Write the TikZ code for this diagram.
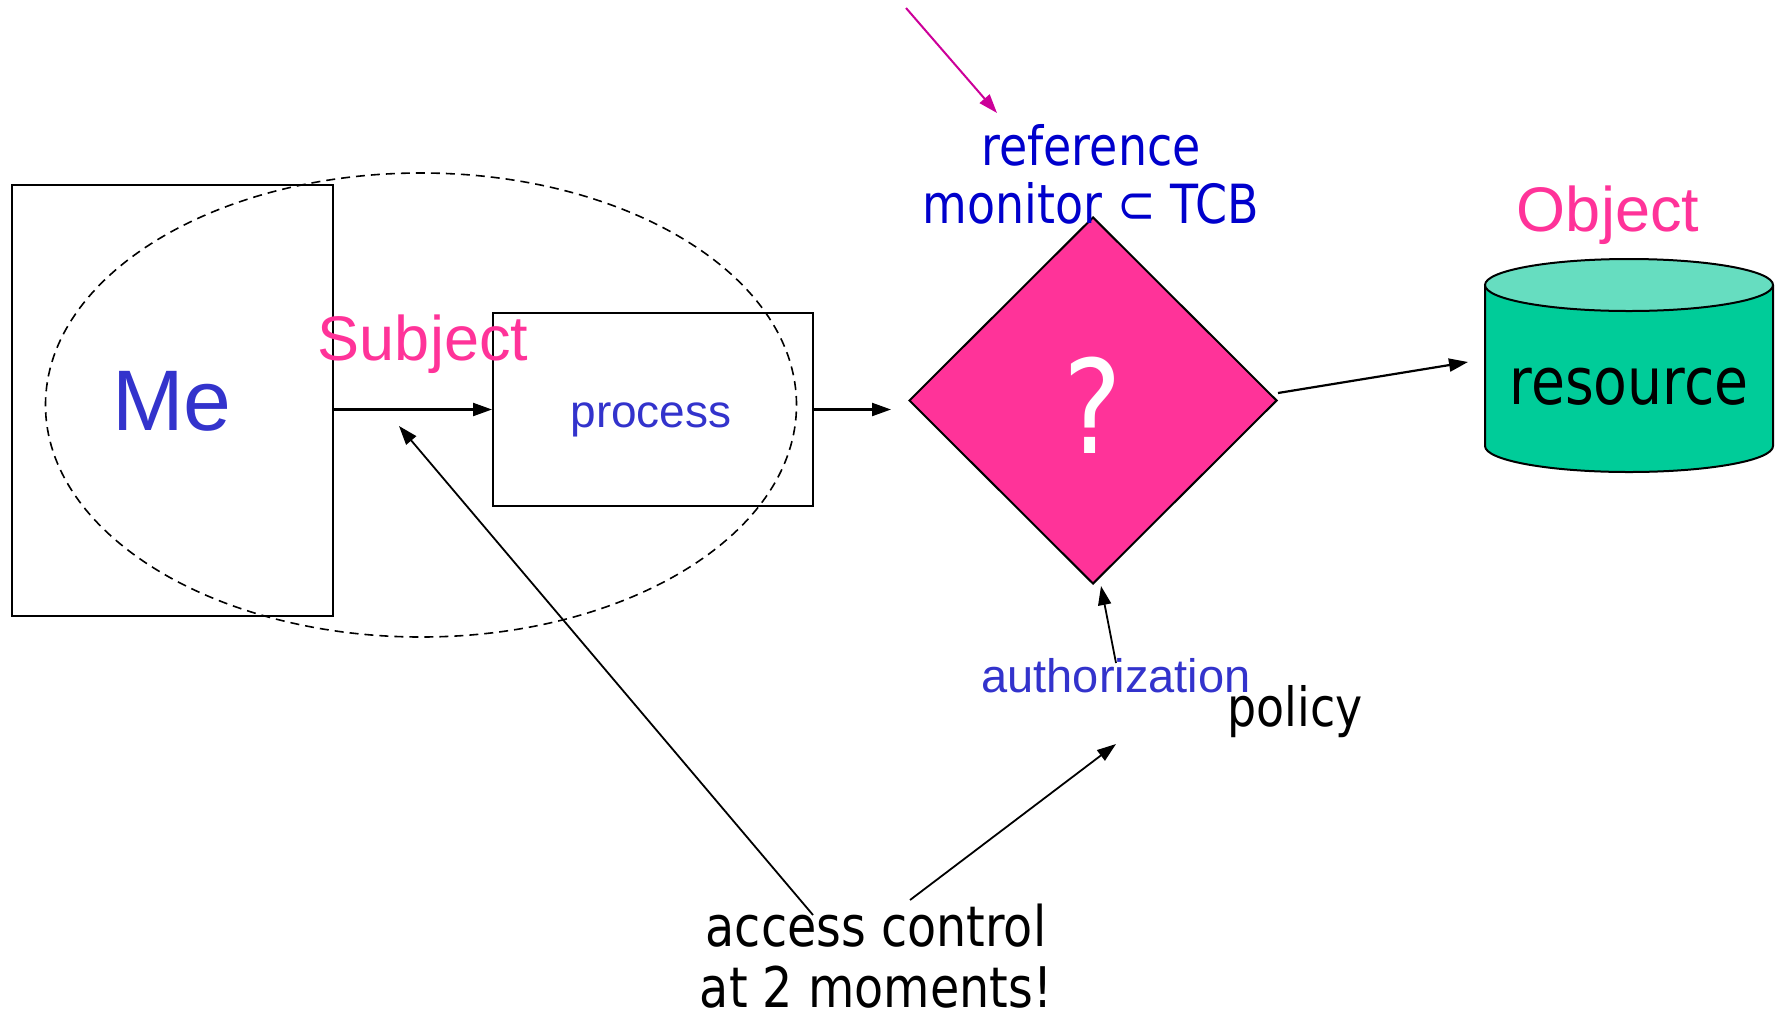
\documentclass[tikz,border=0pt]{standalone}
\usepackage{fontspec}
\setmainfont{Liberation Sans}
\newfontfamily\tah[FakeStretch=0.85]{DejaVu Sans}
\usetikzlibrary{shapes.geometric,arrows.meta}
\definecolor{meblue}{HTML}{3333CC}
\definecolor{subjpink}{HTML}{FF3399}
\definecolor{rmblue}{HTML}{0000CC}
\definecolor{cylbody}{HTML}{00CC99}
\definecolor{cyltop}{HTML}{66DDC0}
\definecolor{magarrow}{HTML}{CC0099}
\tikzset{
  box/.style={draw, line width=2pt, inner sep=0},
  lbl/.style={anchor=base, inner sep=0},
  conn/.style={line width=2.2pt, -{Triangle[length=19pt,width=13pt]}},
  thinconn/.style={line width=1.8pt, -{Triangle[length=19pt,width=13pt]}},
}
\begin{document}
\begin{tikzpicture}[x=1pt,y=1pt]
\useasboundingbox (0,0) rectangle (1776,-1018);
% subject boxes
\node[box, minimum width=320.5, minimum height=431] (me) at (172.5,-400.5) {};
\node[box, minimum width=320, minimum height=193] (proc) at (653,-409.5) {};
\node[ellipse, draw, line width=1.6pt, dash pattern=on 9pt off 6pt, minimum width=751, minimum height=464, inner sep=0] (subj) at (421,-405) {};
\node[lbl, text=meblue, font=\fontsize{86}{86}\selectfont] (metext) at (172,-430) {Me};
\node[lbl, text=subjpink, font=\fontsize{63}{63}\selectfont] (subjtext) at (423,-360) {Subject};
\node[lbl, text=meblue, font=\fontsize{46}{46}\selectfont] (proctext) at (651,-427) {process};
% reference monitor
\node[diamond, draw, line width=2pt, fill=subjpink, minimum width=368, minimum height=367, inner sep=0] (rm) at (1093,-400.5) {};
\node[lbl, text=white, font=\tah\fontsize{130}{130}\selectfont] (q) at (1093,-453) {?};
\node[lbl, text=rmblue, font=\tah\fontsize{54}{54}\selectfont] (rm1) at (1091,-165) {reference};
\node[lbl, text=rmblue, font=\tah\fontsize{54}{54}\selectfont] (rm2) at (1091,-223) {monitor ⊂ TCB};
\coordinate (magstart) at (906,-8);
\coordinate (magend) at (997,-113);
\draw[line width=2pt, magarrow, -{Triangle[length=19pt,width=13pt]}] (magstart) -- (magend);
% object
\fill[cylbody] (1485,-285) -- (1485,-446) arc[start angle=180, end angle=360, x radius=144, y radius=26] -- (1773,-285) -- cycle;
\draw[line width=2pt] (1485,-285) -- (1485,-446) arc[start angle=180, end angle=360, x radius=144, y radius=26] -- (1773,-285);
\draw[line width=2pt, fill=cyltop] (1629,-285) ellipse [x radius=144, y radius=26];
\node[inner sep=0, minimum width=288, minimum height=213] (cyl) at (1629,-365) {};
\node[lbl, text=black, font=\tah\fontsize{65}{65}\selectfont] (restext) at (1629,-404) {resource};
\node[lbl, text=subjpink, font=\fontsize{63}{63}\selectfont] (objtext) at (1608,-231) {Object};
% policy
\node[lbl, text=meblue, font=\fontsize{47}{47}\selectfont] (auth) at (1116,-692) {authorization};
\node[lbl, text=black, font=\tah\fontsize{54}{54}\selectfont] (policy) at (1295,-726) {policy};
\node[lbl, text=black, font=\tah\fontsize{56}{56}\selectfont] (ac1) at (876,-946) {access control};
\node[lbl, text=black, font=\tah\fontsize{56}{56}\selectfont] (ac2) at (876,-1007) {at 2 moments!};
% connectors
\draw[conn] (me.east |- proc.west) -- (proc.west);
\draw[conn, shorten >=17pt] (proc.east) -- (rm.west |- proc.east);
\coordinate (rmout) at (1278,-393);
\coordinate (cylin) at (1468,-362);
\draw[conn] (rmout) -- (cylin);
\coordinate (authtop) at (1116,-663);
\coordinate (rmbot) at (1101,-586);
\draw[thinconn] (authtop) -- (rmbot);
\coordinate (s1) at (813,-915);
\coordinate (t1) at (399,-426);
\coordinate (s2) at (910,-900);
\coordinate (t2) at (1116,-744);
\draw[thinconn] (s1) -- (t1);
\draw[thinconn] (s2) -- (t2);
\end{tikzpicture}
\end{document}
